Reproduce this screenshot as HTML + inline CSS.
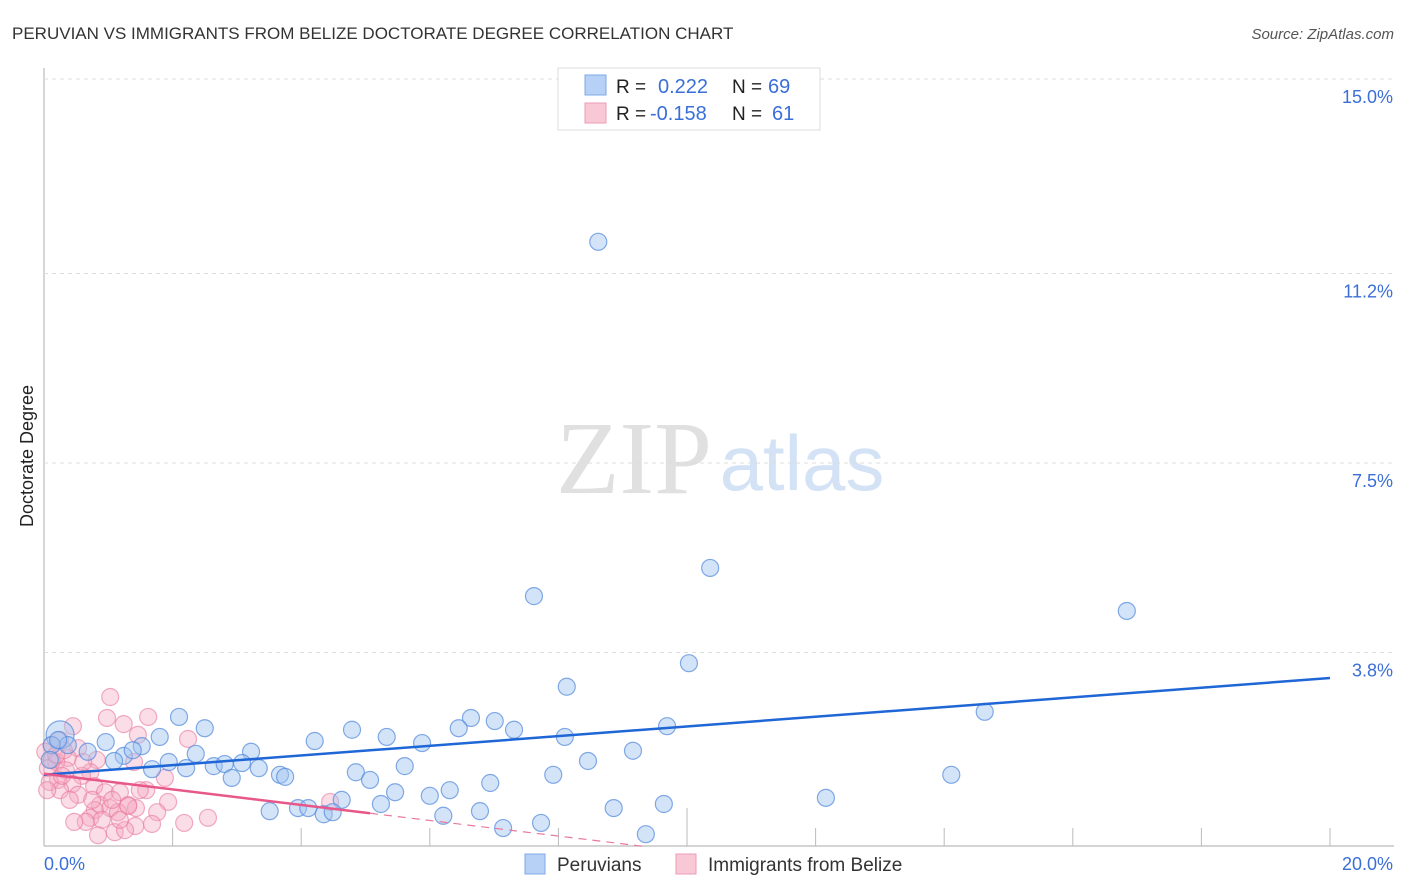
<!DOCTYPE html>
<html><head><meta charset="utf-8"><style>
body{margin:0;background:#fff;font-family:"Liberation Sans",sans-serif;}
svg{display:block}
</style></head><body>
<svg id="chart" width="1406" height="892">
<text x="12" y="39" font-size="17" fill="#333">PERUVIAN VS IMMIGRANTS FROM BELIZE DOCTORATE DEGREE CORRELATION CHART</text>
<text x="1394" y="39" font-size="15" fill="#555" font-style="italic" text-anchor="end">Source: ZipAtlas.com</text>
<text x="634" y="493" font-size="104" fill="#e0e0e0" font-family="Liberation Serif,serif" text-anchor="middle">ZIP</text>
<text x="802" y="490" font-size="78" fill="#d4e2f6" text-anchor="middle">atlas</text>
<text transform="translate(33,456) rotate(-90)" font-size="18" fill="#222" text-anchor="middle">Doctorate Degree</text>
<g id="grid"></g><g id="marks"></g><g id="lines"></g>
<g>
<rect x="558" y="68" width="262" height="62" fill="#fff" stroke="#ddd"/>
<rect x="585" y="75" width="21" height="20" fill="#b7d0f5" stroke="#7fa7e6"/>
<rect x="585" y="103" width="21" height="20" fill="#f9c8d6" stroke="#ec9db5"/>
<text x="616" y="93" font-size="19" fill="#222">R =</text><text x="658" y="93" font-size="20" fill="#3a6fd8">0.222</text>
<text x="732" y="93" font-size="19" fill="#222">N =</text><text x="768" y="93" font-size="20" fill="#3a6fd8">69</text>
<text x="616" y="120" font-size="19" fill="#222">R =</text><text x="650" y="120" font-size="20" fill="#3a6fd8">-0.158</text>
<text x="732" y="120" font-size="19" fill="#222">N =</text><text x="772" y="120" font-size="20" fill="#3a6fd8">61</text>
</g>
<g>
<rect x="525" y="854" width="20" height="20" fill="#b7d0f5" stroke="#7fa7e6"/>
<text x="557" y="871" font-size="19" fill="#333">Peruvians</text>
<rect x="676" y="854" width="20" height="20" fill="#f9c8d6" stroke="#ec9db5"/>
<text x="708" y="871" font-size="19" fill="#333">Immigrants from Belize</text>
</g>
</svg>
<script>
const yTicks=[3.8,7.5,11.2,15.0];
const yTickLabels=["3.8%","7.5%","11.2%","15.0%"];
const xTicks=[0,2,4,6,8,10,12,14,16,18,20];
const blueX=[8.62,10.36,7.62,16.84,10.03,8.13,14.63,2.10,6.64,7.01,9.69,2.50,4.79,6.45,7.31,5.33,4.21,8.10,5.88,0.25,0.37,0.96,1.52,9.16,2.36,0.68,3.22,1.24,1.38,1.80,1.09,1.94,2.64,3.08,2.81,8.46,3.34,5.61,1.68,2.21,3.67,3.75,4.85,2.92,5.07,7.92,14.11,6.94,6.31,5.46,6.00,4.63,5.24,12.16,9.64,8.86,3.51,3.95,4.11,4.35,4.49,6.78,6.21,7.14,7.73,9.36,0.12,0.22,0.09];
const blueY=[11.82,5.45,4.90,4.61,3.59,3.13,2.64,2.54,2.52,2.46,2.36,2.32,2.29,2.32,2.29,2.15,2.07,2.15,2.03,2.19,1.99,2.05,1.97,1.88,1.82,1.86,1.86,1.78,1.89,2.15,1.68,1.66,1.58,1.64,1.62,1.68,1.54,1.58,1.52,1.54,1.41,1.37,1.46,1.35,1.31,1.41,1.41,1.25,1.11,1.07,1.00,0.92,0.84,0.96,0.84,0.76,0.70,0.76,0.76,0.64,0.68,0.70,0.61,0.37,0.47,0.25,1.99,2.09,1.70];
const pinkX=[1.03,1.62,0.98,1.24,0.45,1.46,2.24,0.25,0.12,0.53,0.02,0.37,0.19,1.40,0.82,0.06,0.34,0.72,1.88,0.59,0.22,0.09,0.44,0.25,0.78,1.59,0.95,1.18,0.53,1.93,0.87,1.03,1.31,1.15,1.43,0.79,0.72,0.90,1.31,1.76,4.45,0.65,0.47,1.68,2.55,2.18,1.42,1.10,0.84,1.26,0.28,0.12,0.05,0.61,0.40,1.06,1.49,0.75,0.31,0.19,1.18];
const pinkY=[2.93,2.54,2.52,2.40,2.36,2.19,2.11,2.09,1.99,1.93,1.86,1.74,1.66,1.66,1.70,1.54,1.50,1.46,1.35,1.39,1.31,1.27,1.23,1.11,1.19,1.11,1.07,1.07,1.02,0.88,0.82,0.76,0.82,0.68,0.76,0.72,0.57,0.53,0.80,0.68,0.88,0.49,0.49,0.45,0.57,0.47,0.41,0.29,0.23,0.33,1.39,1.70,1.11,1.66,0.92,0.92,1.11,0.92,1.89,1.80,0.53];
const blueTrend=[1.41,3.30];
const pinkTrend=[1.43,-0.152];
const X=v=>44+v*64.3, Y=v=>847-v*51.2;
const NS='http://www.w3.org/2000/svg';
function mk(tag,at,parent){const e=document.createElementNS(NS,tag);for(const k in at)e.setAttribute(k,at[k]);parent.appendChild(e);return e;}
const grid=document.getElementById('grid'),marks=document.getElementById('marks'),lines=document.getElementById('lines');
let ax=mk('line',{x1:44,y1:68,x2:44,y2:846,stroke:'#bbb','stroke-width':1.2},grid);


let bx=mk('line',{x1:44,y1:846,x2:1394,y2:846,stroke:'#bbb','stroke-width':1.2},grid);


yTicks.forEach((t,i)=>{
 const g=mk('line',{x1:44,y1:Y(t),x2:1394,y2:Y(t),stroke:'#ddd','stroke-dasharray':'4,4'},grid);
 
 
 const l=mk('text',{x:1393,y:Y(t)+24,'font-size':18,fill:'#3a6fd8','text-anchor':'end'},grid);l.textContent=yTickLabels[i];
 
 
});
xTicks.forEach((t,i)=>{
 if(i==0)return;
 const k=mk('line',{x1:X(t),y1:(t==10?808:828),x2:X(t),y2:846,stroke:'#bbb'},grid);
 
 
});
let xl0=mk('text',{x:44,y:870,'font-size':18,fill:'#3a6fd8'},grid);xl0.textContent='0.0%';


let xl1=mk('text',{x:1393,y:870,'font-size':18,fill:'#3a6fd8','text-anchor':'end'},grid);xl1.textContent='20.0%';


pinkX.forEach((v,i)=>{
 const c=mk('circle',{cx:X(v),cy:Y(pinkY[i]),r:8.5,fill:'rgba(246,170,195,0.4)',stroke:'rgba(232,120,155,0.6)','stroke-width':1.2},marks);
 
 
});
blueX.forEach((v,i)=>{
 const c=mk('circle',{cx:X(v),cy:Y(blueY[i]),r:(i==19?14:8.5),fill:'rgba(160,196,240,0.45)',stroke:'rgba(80,135,220,0.7)','stroke-width':1.2},marks);
 
 
});
let bl=mk('line',{x1:X(0),y1:Y(blueTrend[0]),x2:X(20),y2:Y(blueTrend[1]),stroke:'#1f66d6','stroke-width':2.5},lines);


const pf=x=>pinkTrend[0]+pinkTrend[1]*x;
let pl=mk('line',{x1:X(0),y1:Y(pf(0)),x2:X(5.07),y2:Y(pf(5.07)),stroke:'#e8578a','stroke-width':2.5},lines);


let pd=mk('line',{x1:X(5.07),y1:Y(pf(5.07)),x2:X(9.3),y2:Y(pf(9.3)),stroke:'#e8789f','stroke-width':1.2,'stroke-dasharray':'8,6'},lines);


</script>
</body></html>
